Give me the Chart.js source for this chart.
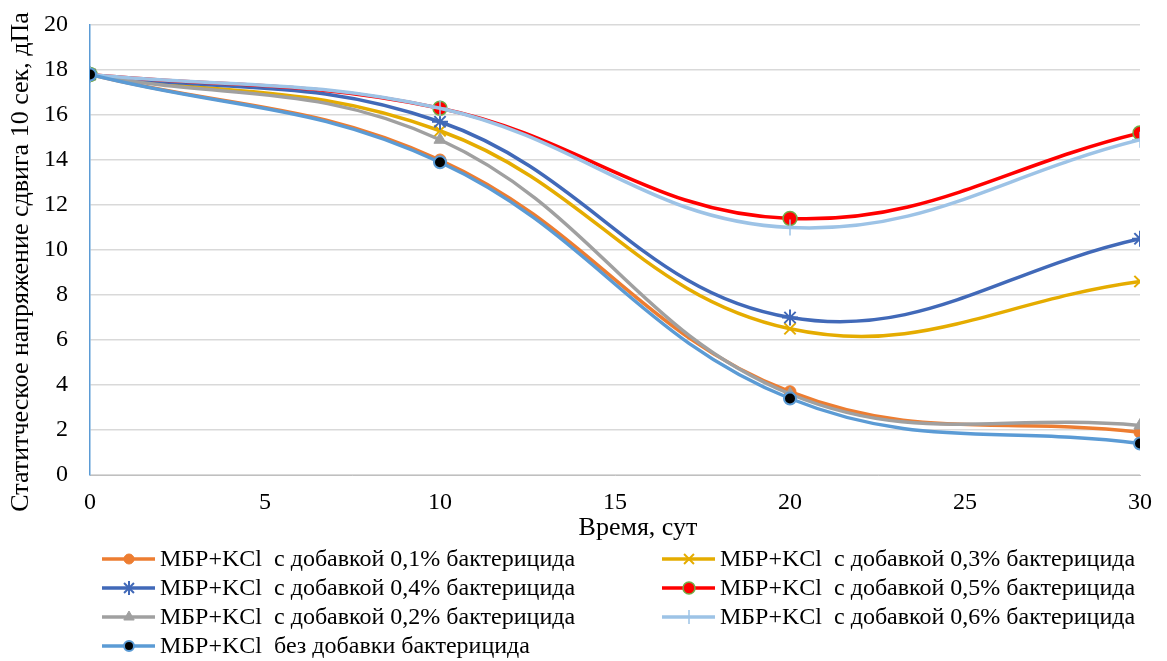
<!DOCTYPE html>
<html><head><meta charset="utf-8">
<script src="https://cdn.jsdelivr.net/npm/chart.js@4.4.1/dist/chart.umd.min.js"></script>
<style>
body{margin:0;background:#fff;width:1167px;height:661px;overflow:hidden;position:relative;font-family:"Liberation Serif","Times New Roman",serif;}
#c{position:absolute;left:0;top:0;}
#legend{position:absolute;left:100px;top:544px;display:grid;grid-template-columns:560px 500px;grid-auto-rows:29px;font-size:24px;color:#000;}
.item{display:flex;align-items:center;white-space:pre;}
.item canvas{margin-right:4px;}
</style></head><body>
<canvas id="c" width="1167" height="545"></canvas>
<div id="legend"></div>
<script>
const days = [0, 10, 20, 30];
const xTicks = [0, 5, 10, 15, 20, 25, 30];
const yTicks = [0, 2, 4, 6, 8, 10, 12, 14, 16, 18, 20];
const seriesNames = [
  "МБР+KCl  с добавкой 0,1% бактерицида",
  "МБР+KCl  с добавкой 0,3% бактерицида",
  "МБР+KCl  с добавкой 0,4% бактерицида",
  "МБР+KCl  с добавкой 0,5% бактерицида",
  "МБР+KCl  с добавкой 0,2% бактерицида",
  "МБР+KCl  с добавкой 0,6% бактерицида",
  "МБР+KCl  без добавки бактерицида"
];
const s01 = [17.8, 14.0, 3.7, 1.9];
const s03 = [17.8, 15.3, 6.5, 8.6];
const s04 = [17.8, 15.7, 7.0, 10.5];
const s05 = [17.8, 16.3, 11.4, 15.2];
const s02 = [17.8, 14.9, 3.6, 2.2];
const s06 = [17.8, 16.3, 11.0, 14.9];
const s00 = [17.8, 13.9, 3.4, 1.4];
const xTitle = "Время, сут";
const yTitle = "Статитческое напряжение сдвига 10 сек, дПа";

const values = [s01, s03, s04, s05, s02, s06, s00];
const styles = [
  {color:'#ED7D31', pointStyle:'circle', r:6, bg:'#ED7D31', bc:'#ED7D31', bw:1},
  {color:'#E5AC00', pointStyle:'crossRot', r:8, bg:'#E5AC00', bc:'#E5AC00', bw:2},
  {color:'#4169B8', pointStyle:'star', r:8, bg:'#4169B8', bc:'#4169B8', bw:2},
  {color:'#FF0000', pointStyle:'circle', r:7, bg:'#FF0000', bc:'#70AD47', bw:1.5},
  {color:'#A0A0A0', pointStyle:'triangle', r:7, bg:'#A0A0A0', bc:'#A0A0A0', bw:1},
  {color:'#9DC3E6', pointStyle:'cross', r:8, bg:'#9DC3E6', bc:'#9DC3E6', bw:1.5},
  {color:'#5B9BD5', pointStyle:'circle', r:6, bg:'#000000', bc:'#5B9BD5', bw:2}
];

const datasets = values.map((v, i) => ({
  label: seriesNames[i],
  data: days.map((d, j) => ({x: d, y: v[j]})),
  borderColor: styles[i].color,
  backgroundColor: styles[i].bg,
  borderWidth: 3.5,
  tension: 0.4,
  pointStyle: styles[i].pointStyle,
  pointRadius: styles[i].r,
  pointBackgroundColor: styles[i].bg,
  pointBorderColor: styles[i].bc,
  pointBorderWidth: styles[i].bw,
  order: values.length - i
}));

const FAMILY = '"Liberation Serif", "Times New Roman", serif';
const font = {family: FAMILY, size: 24};

const axisTitles = {
  id: 'axisTitles',
  afterDraw(chart) {
    const {ctx, chartArea} = chart;
    ctx.save();
    ctx.fillStyle = '#000';
    ctx.font = '26px ' + FAMILY;
    ctx.textAlign = 'center';
    ctx.textBaseline = 'middle';
    ctx.fillText(xTitle, 638, 528);
    ctx.translate(21, 262);
    ctx.rotate(-Math.PI / 2);
    ctx.fillText(yTitle, 0, 0);
    ctx.restore();
  }
};

new Chart(document.getElementById('c'), {
  type: 'line',
  data: {datasets},
  plugins: [axisTitles],
  options: {
    responsive: false,
    animation: false,
    layout: {padding: {left: 0, right: 27, top: 25, bottom: 0}},
    plugins: {legend: {display: false}, tooltip: {enabled: false}},
    scales: {
      x: {
        type: 'linear', min: 0, max: 30,
        afterBuildTicks: s => { s.ticks = xTicks.map(v => ({value: v})); },
        afterFit: s => { s.height = 70; s.paddingLeft = 0; s.paddingRight = 0; },
        grid: {display: false, drawTicks: false},
        border: {color: '#BFBFBF', width: 1},
        ticks: {font, color: '#000', padding: 13, maxRotation: 0}
      },
      y: {
        type: 'linear', min: 0, max: 20,
        afterBuildTicks: s => { s.ticks = yTicks.map(v => ({value: v})); },
        afterFit: s => { s.width = 90; s.paddingTop = 0; s.paddingBottom = 0; },
        grid: {color: '#D9D9D9', lineWidth: 1.5, drawTicks: false},
        border: {color: '#5B9BD5', width: 1.5},
        ticks: {font, color: '#000', padding: 22}
      }
    }
  }
});

const legend = document.getElementById('legend');
datasets.forEach((ds, i) => {
  const item = document.createElement('div');
  item.className = 'item';
  const cv = document.createElement('canvas');
  cv.width = 56; cv.height = 20;
  const ctx = cv.getContext('2d');
  ctx.strokeStyle = styles[i].color;
  ctx.lineWidth = 3.5;
  ctx.beginPath(); ctx.moveTo(2, 10); ctx.lineTo(55, 10); ctx.stroke();
  ctx.fillStyle = styles[i].bg;
  ctx.strokeStyle = styles[i].bc;
  ctx.lineWidth = styles[i].bw;
  Chart.helpers.drawPoint(ctx, {pointStyle: styles[i].pointStyle, radius: styles[i].r - 1, borderWidth: styles[i].bw, rotation: 0}, 29, 10);
  const t = document.createElement('span');
  t.textContent = ds.label;
  item.appendChild(cv); item.appendChild(t);
  legend.appendChild(item);
});
</script>
</body></html>
